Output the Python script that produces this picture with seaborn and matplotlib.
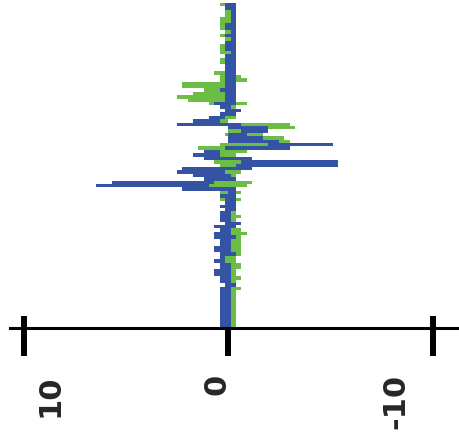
import matplotlib
matplotlib.use("Agg")
import matplotlib.pyplot as plt
import numpy as np
import pandas as pd
import seaborn as sns
from matplotlib.transforms import ScaledTranslation

# ---- data (one entry per row, top to bottom; x axis runs from +10 on the left to -10 on the right)
blue_left = [.15, .15, 0, 0, 0, 0, .15, .15, 0, .15, 0, .15, .15, .15, 0, .15, .15, .15, .15, .15,
             .15, .15, .15, .15, .15, .39, .15, .15, .15, .68, .39, .15, .39, .93, 1.71, 2.49, 0, 0, 0, 0,
             0, 0, .15, 1.17, 1.71, 1.17, 0, 0, 2.25, 2.49, 1.71, 1.17, 5.67, 6.45, 2.25, 0, .39, .15, .15, .39,
             .15, .39, .39, .39, .15, .68, .39, .68, .68, .39, .39, .68, .68, .39, .39, .68, .39, .39, .68, .68,
             .39, .39, .15, .39, .39, .39, .39, .39, .39, .39, .39, .39, .39, .39, .39]
blue_right = [-.39, -.39, -.39, -.39, -.39, -.39, -.39, -.39, -.39, -.39, -.39, -.39, -.39, -.39, -.39, -.39, -.39, -.39, -.39, -.39,
              -.39, -.39, -.39, -.39, -.39, -.39, -.39, -.39, -.39, -.39, -.15, -.64, -.39, 0, 0, -.64, -1.96, -1.96, -.93, -1.71,
              -2.49, -5.13, -3.03, 0, 0, -1.17, -5.38, -5.38, -1.17, 0, -.15, -.39, 0, 0, -.39, -.39, -.39, -.39, -.39, -.39,
              -.39, -.15, -.15, -.15, -.64, -.39, -.15, -.15, -.39, -.15, -.15, -.15, -.15, -.39, 0, 0, -.15, -.15, -.15, -.15,
              -.15, -.15, -.39, -.15, -.15, -.15, -.15, -.15, -.15, -.15, -.15, -.15, -.15, -.15, -.15]
green_left = [.39, 0, .15, .15, .39, .39, .39, .39, .15, .39, .15, 0, .39, .39, .39, 0, .39, .39, 0, 0,
              .68, .39, .39, 2.25, 2.25, 1.17, 1.71, 2.49, 1.96, .93, 0, 0, 0, .15, .39, 0, 0, 0, .15, 0,
              0, .39, 1.47, .39, .39, 0, .68, .39, 0, .15, 0, 0, .68, .93, 0, .39, 0, .39, 0, 0,
              0, 0, 0, 0, 0, 0, 0, 0, 0, 0, 0, 0, 0, 0, .15, .15, 0, 0, 0, 0,
              0, 0, 0, 0, 0, 0, 0, 0, 0, 0, 0, 0, 0, 0, 0]
green_right = [0, 0, -.15, -.15, -.15, -.15, 0, 0, -.15, 0, -.15, 0, 0, 0, -.15, 0, 0, 0, 0, 0,
               0, -.64, -.93, 0, 0, 0, 0, 0, 0, -.93, -.39, 0, 0, -.39, 0, -3.03, -3.28, -.64, -1.71, -2.74,
               -3.03, -1.96, 0, -.93, -.39, 0, -.64, -.39, 0, -.64, -.39, 0, -1.17, -.93, 0, -.64, 0, -.64, 0, 0,
               0, -.39, -.64, -.39, 0, 0, -.64, -.93, -.64, -.64, -.64, -.64, -.64, -.64, -.39, -.39, -.64, -.64, -.39, -.39,
               -.64, -.39, 0, -.64, -.39, -.39, -.39, -.39, -.39, -.39, -.39, -.39, -.39, -.39, -.39]
tick_values = [10, 0, -10]
tick_labels = ["10", "0", "-10"]

BLUE = "#3453A4"
GREEN = "#6BBD45"

n = len(blue_left)
rows = [f"r{i:02d}" for i in range(n)]
series = ["blue_left", "blue_right", "green_left", "green_right"]
df = pd.DataFrame({
    "row": rows * 4,
    "value": blue_left + blue_right + green_left + green_right,
    "series": [s for s in series for _ in range(n)],
})
palette = {"blue_left": BLUE, "blue_right": BLUE, "green_left": GREEN, "green_right": GREEN}

sns.set_style("white")
plt.rcParams["font.family"] = ["DejaVu Sans"]

fig = plt.figure(figsize=(4.6, 4.45), dpi=100)
ax = fig.add_axes([10 / 460, (445 - 327.5) / 445, 450 / 460, (327.5 - 3) / 445])

sns.barplot(data=df, x="value", y="row", hue="series", hue_order=series, order=rows,
            palette=palette, dodge=False, width=1.0, orient="h", errorbar=None,
            legend=False, saturation=1, linewidth=0, ax=ax)

# shorter bars drawn on top of longer ones
for p in ax.patches:
    p.set_zorder(1 + 1 / (1 + abs(p.get_width())))
    p.set_edgecolor("none")

ax.set_xlim(10.66, -11.34)
ax.set_ylim(n - 0.5, -0.5)
for s in ["left", "top", "right"]:
    ax.spines[s].set_visible(False)
ax.spines["bottom"].set_linewidth(2.2)
ax.spines["bottom"].set_color("black")
ax.spines["bottom"].set_zorder(3)
ax.set_yticks([])
ax.set_ylabel("")
ax.set_xlabel("")

ax.set_xticks(tick_values, tick_labels)
ax.set_xticks(tick_values, minor=True)
ax.xaxis.remove_overlapping_locs = False
ax.tick_params(axis="x", which="major", bottom=True, direction="out", length=20.5, width=4.3,
               color="black", pad=13, labelrotation=90, labelsize=22)
ax.tick_params(axis="x", which="minor", bottom=True, direction="in", length=9, width=4.3,
               color="black")
for lbl in ax.get_xticklabels():
    lbl.set_fontweight("bold")

offsets_px = [27, -11, -37]
for lbl, dx in zip(ax.get_xticklabels(), offsets_px):
    lbl.set_transform(lbl.get_transform() + ScaledTranslation(dx / 100, 0, fig.dpi_scale_trans))

fig.savefig("out.png", dpi=100)
